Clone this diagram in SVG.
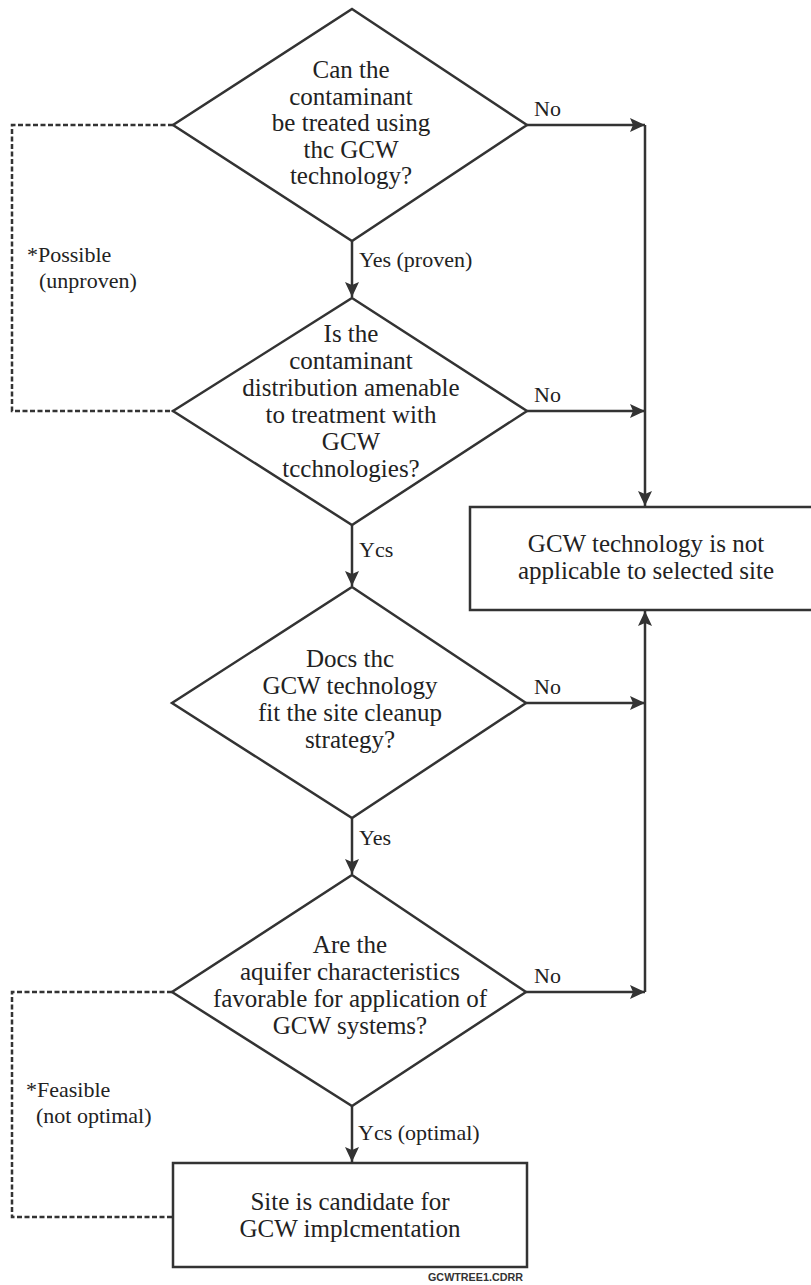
<svg xmlns="http://www.w3.org/2000/svg" width="811" height="1285" viewBox="0 0 811 1285">
<defs>
<style>
.shape{fill:#fff;stroke:#333;stroke-width:2.5}
.line{fill:none;stroke:#333;stroke-width:2.5}
.dash{fill:none;stroke:#333;stroke-width:2.5;stroke-dasharray:5 2.5}
.t{font-family:"Liberation Serif","Times New Roman",serif;font-size:25px;fill:#222;text-anchor:middle}
.lbl{font-family:"Liberation Serif","Times New Roman",serif;font-size:22px;fill:#222}
.fn{font-family:"Liberation Sans",Arial,sans-serif;font-size:10px;font-weight:bold;fill:#333}
</style>
<marker id="ah" markerUnits="userSpaceOnUse" markerWidth="16" markerHeight="14" refX="15" refY="7" orient="auto">
<path d="M0,0 L15,7 L0,14 L3,7 z" fill="#333"/>
</marker>
</defs>
<rect width="811" height="1285" fill="#fff"/>

<g id="connectors">
<line class="line" x1="352" y1="241" x2="352" y2="297" marker-end="url(#ah)"/>
<line class="line" x1="352" y1="525" x2="352" y2="586" marker-end="url(#ah)"/>
<line class="line" x1="352" y1="818" x2="352" y2="874" marker-end="url(#ah)"/>
<line class="line" x1="352" y1="1106" x2="352" y2="1162" marker-end="url(#ah)"/>
<line class="line" x1="527" y1="125" x2="645" y2="125" marker-end="url(#ah)"/>
<line class="line" x1="527" y1="411" x2="645" y2="411" marker-end="url(#ah)"/>
<line class="line" x1="526" y1="703" x2="645" y2="703" marker-end="url(#ah)"/>
<line class="line" x1="526" y1="992" x2="645" y2="992" marker-end="url(#ah)"/>
<line class="line" x1="645" y1="125" x2="645" y2="506" marker-end="url(#ah)"/>
<line class="line" x1="645" y1="992" x2="645" y2="611" marker-end="url(#ah)"/>
<path class="dash" d="M173,125 H12 V411 H173"/>
<path class="dash" d="M172,992 H12 V1217 H172"/>
<text class="lbl" x="359" y="267">Yes (proven)</text>
<text class="lbl" x="359" y="557">Ycs</text>
<text class="lbl" x="359" y="845">Yes</text>
<text class="lbl" x="358" y="1140">Ycs (optimal)</text>
<text class="lbl" x="534" y="116">No</text>
<text class="lbl" x="534" y="402">No</text>
<text class="lbl" x="534" y="694">No</text>
<text class="lbl" x="534" y="983">No</text>
<text class="lbl" x="27" y="262">*Possible</text>
<text class="lbl" x="39" y="288">(unproven)</text>
<text class="lbl" x="26" y="1097">*Feasible</text>
<text class="lbl" x="36" y="1123">(not optimal)</text>
</g>

<g id="d1">
<polygon class="shape" points="352,9 527,125 352,241 173,125"/>
<text class="t" x="351" y="78">Can the</text>
<text class="t" x="351" y="104.5">contaminant</text>
<text class="t" x="351" y="131">be treated using</text>
<text class="t" x="351" y="157.5">thc GCW</text>
<text class="t" x="351" y="184">technology?</text>
</g>

<g id="d2">
<polygon class="shape" points="352,298 527,411 352,525 173,411"/>
<text class="t" x="351" y="342">Is the</text>
<text class="t" x="351" y="369">contaminant</text>
<text class="t" x="351" y="396">distribution amenable</text>
<text class="t" x="351" y="423">to treatment with</text>
<text class="t" x="351" y="450">GCW</text>
<text class="t" x="351" y="477">tcchnologies?</text>
</g>

<g id="d3">
<polygon class="shape" points="352,587 526,703 352,818 172,703"/>
<text class="t" x="350" y="667">Docs thc</text>
<text class="t" x="350" y="694">GCW technology</text>
<text class="t" x="350" y="721">fit the site cleanup</text>
<text class="t" x="350" y="748">strategy?</text>
</g>

<g id="d4">
<polygon class="shape" points="352,875 526,992 352,1106 172,992"/>
<text class="t" x="350" y="953">Are the</text>
<text class="t" x="350" y="980">aquifer characteristics</text>
<text class="t" x="350" y="1007">favorable for application of</text>
<text class="t" x="350" y="1034">GCW systems?</text>
</g>

<g id="notapplicable">
<rect class="shape" x="470" y="507" width="345" height="103"/>
<text class="t" x="646" y="552">GCW technology is not</text>
<text class="t" x="646" y="579">applicable to selected site</text>
</g>

<g id="candidate">
<rect class="shape" x="173" y="1163" width="354" height="104"/>
<text class="t" x="350" y="1210">Site is candidate for</text>
<text class="t" x="350" y="1237">GCW implcmentation</text>
</g>

<text class="fn" x="428" y="1281" textLength="95" lengthAdjust="spacingAndGlyphs">GCWTREE1.CDRR</text>
</svg>
